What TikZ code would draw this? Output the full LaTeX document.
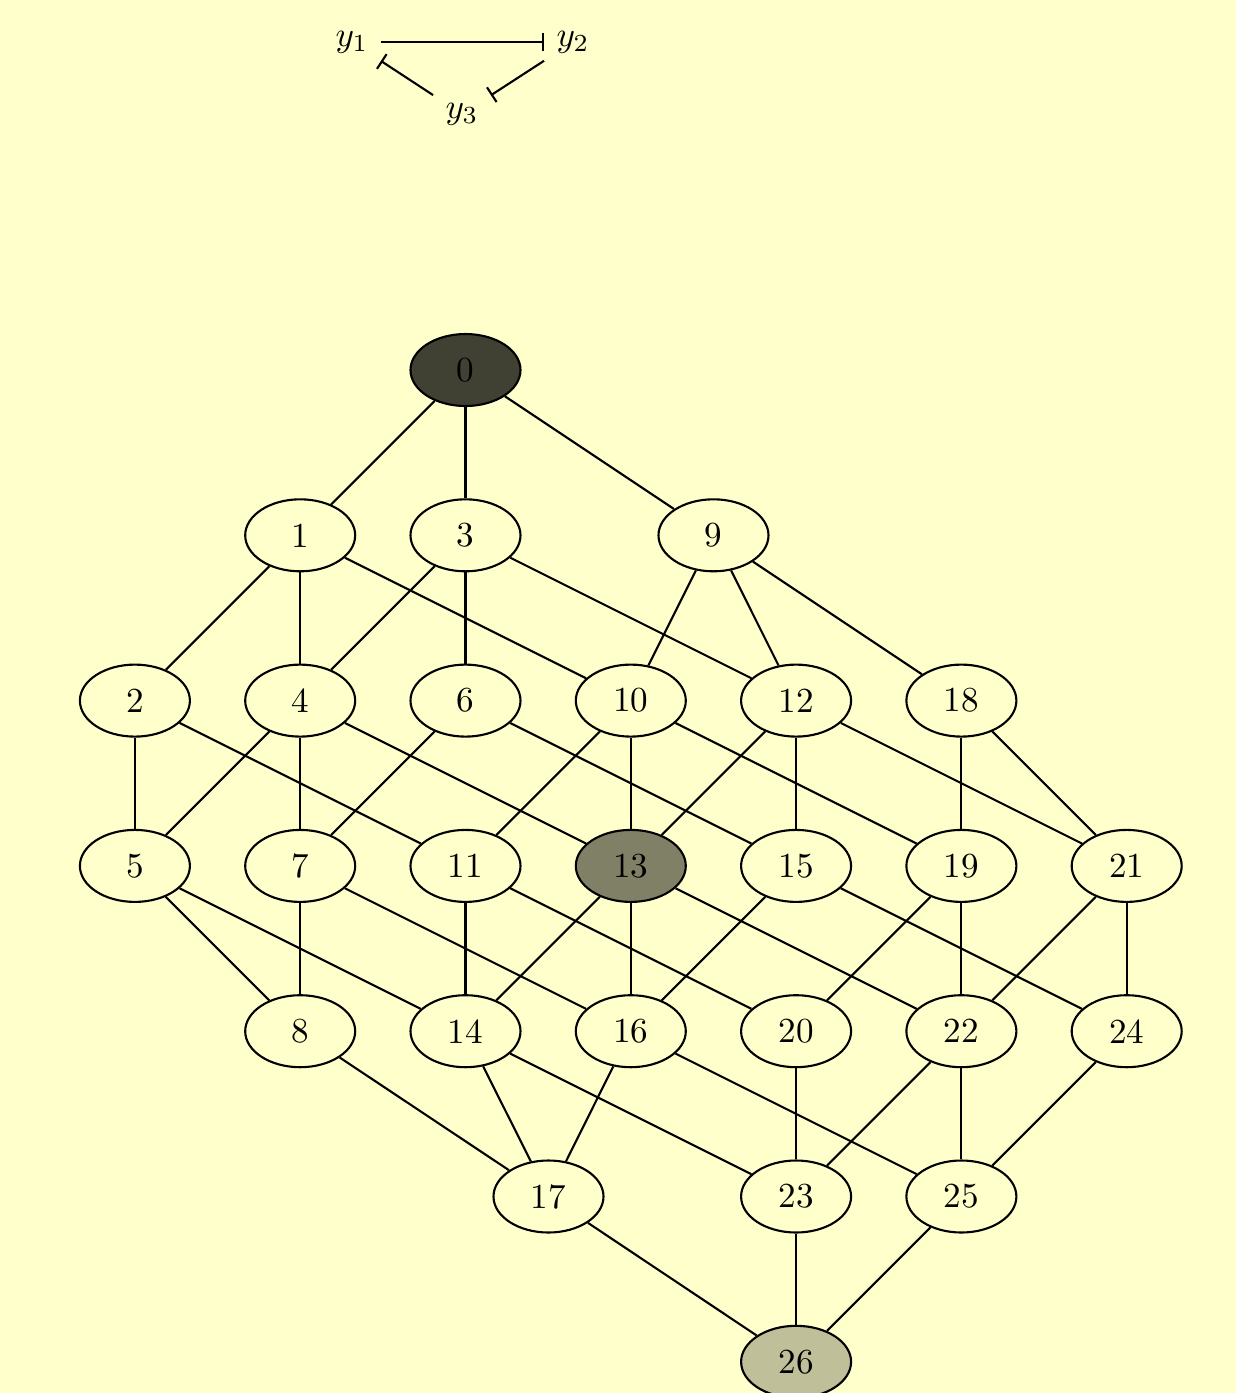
\documentclass[tikz,border=0pt]{standalone}
\usepackage{xcolor}
\usepackage{tikz}
\usetikzlibrary{shapes,arrows,arrows.meta,positioning}
\definecolor{bgyellow}{HTML}{FFFFCC}

\begin{document}
\begin{tikzpicture}

\tikzset{
	st/.style={
		draw=black,
		ellipse,
		line width=0.6pt,
		minimum width=1.1cm,
		minimum height=0.72cm,
		inner sep=0pt,
		text centered,
		fill=bgyellow},
	stdark/.style={st,fill=bgyellow!25!black},
	stmid/.style={st,fill=bgyellow!50!black},
	stlight/.style={st,fill=bgyellow!75!black},
	tr/.style={
		-,
		line width=0.6pt},
	inh/.style={
		-{Bar[width=5pt]},
		line width=0.6pt}
}

\fill[bgyellow] (0,0) rectangle (12.36,-13.93);
\useasboundingbox (0,0) rectangle (12.36,-13.93);

% interaction graph
\node (y1) at (3.52,-0.42) {$y_1$};
\node (y2) at (5.73,-0.42) {$y_2$};
\node (y3) at (4.62,-1.14) {$y_3$};
\draw[inh] (y1) -- (y2);
\draw[inh] (y2) -- (y3);
\draw[inh] (y3) -- (y1);

% state graph
\node[stdark,anchor=center] (n0) at (4.655,-3.70) {0};

\node[st,below left=1.653cm and 1.653cm of n0.center,anchor=center] (n1) {1}
   edge[tr] (n0);
\node[st,below=1.653cm of n0.center,anchor=center] (n3) {3}
   edge[tr] (n0);
\node[st,below right=1.653cm and 2.48cm of n0.center,anchor=center] (n9) {9}
   edge[tr] (n0);

\node[st,below left=1.653cm and 1.653cm of n1.center,anchor=center] (n2) {2}
   edge[tr] (n1);
\node[st,below=1.653cm of n1.center,anchor=center] (n4) {4}
   edge[tr] (n1)
   edge[tr] (n3);
\node[st,below=1.653cm of n3.center,anchor=center] (n6) {6}
   edge[tr] (n3);
\node[st,right=1.653cm of n6.center,anchor=center] (n10) {10}
   edge[tr] (n1)
   edge[tr] (n9);
\node[st,right=1.653cm of n10.center,anchor=center] (n12) {12}
   edge[tr] (n3)
   edge[tr] (n9);
\node[st,right=1.653cm of n12.center,anchor=center] (n18) {18}
   edge[tr] (n9);

\node[st,below=1.653cm of n2.center,anchor=center] (n5) {5}
   edge[tr] (n2)
   edge[tr] (n4);
\node[st,below=1.653cm of n4.center,anchor=center] (n7) {7}
   edge[tr] (n4)
   edge[tr] (n6);
\node[st,below=1.653cm of n6.center,anchor=center] (n11) {11}
   edge[tr] (n2)
   edge[tr] (n10);
\node[stmid,below=1.653cm of n10.center,anchor=center] (n13) {13}
   edge[tr] (n4)
   edge[tr] (n10)
   edge[tr] (n12);
\node[st,below=1.653cm of n12.center,anchor=center] (n15) {15}
   edge[tr] (n6)
   edge[tr] (n12);
\node[st,below=1.653cm of n18.center,anchor=center] (n19) {19}
   edge[tr] (n10)
   edge[tr] (n18);
\node[st,right=1.653cm of n19.center,anchor=center] (n21) {21}
   edge[tr] (n12)
   edge[tr] (n18);

\node[st,below=1.653cm of n7.center,anchor=center] (n8) {8}
   edge[tr] (n5)
   edge[tr] (n7);
\node[st,below=1.653cm of n11.center,anchor=center] (n14) {14}
   edge[tr] (n5)
   edge[tr] (n11)
   edge[tr] (n13);
\node[st,below=1.653cm of n13.center,anchor=center] (n16) {16}
   edge[tr] (n7)
   edge[tr] (n13)
   edge[tr] (n15);
\node[st,below=1.653cm of n15.center,anchor=center] (n20) {20}
   edge[tr] (n11)
   edge[tr] (n19);
\node[st,below=1.653cm of n19.center,anchor=center] (n22) {22}
   edge[tr] (n13)
   edge[tr] (n19)
   edge[tr] (n21);
\node[st,below=1.653cm of n21.center,anchor=center] (n24) {24}
   edge[tr] (n15)
   edge[tr] (n21);

\node[st,below right=1.653cm and 0.83cm of n14.center,anchor=center] (n17) {17}
   edge[tr] (n8)
   edge[tr] (n14)
   edge[tr] (n16);
\node[st,below=1.653cm of n20.center,anchor=center] (n23) {23}
   edge[tr] (n14)
   edge[tr] (n20)
   edge[tr] (n22);
\node[st,below=1.653cm of n22.center,anchor=center] (n25) {25}
   edge[tr] (n16)
   edge[tr] (n22)
   edge[tr] (n24);

\node[stlight,below=1.653cm of n23.center,anchor=center] (n26) {26}
   edge[tr] (n17)
   edge[tr] (n23)
   edge[tr] (n25);

\end{tikzpicture}
\end{document}
